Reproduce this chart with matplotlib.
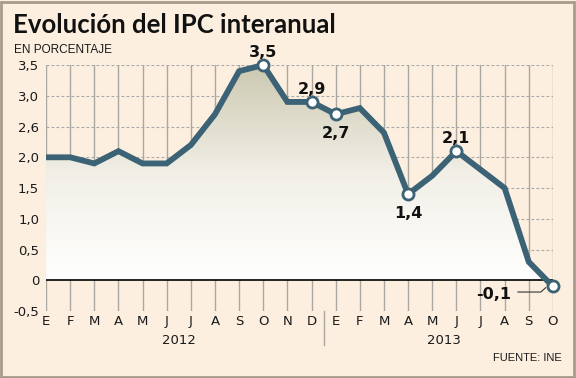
import numpy as np
import matplotlib
matplotlib.use("Agg")
import matplotlib.pyplot as plt
from matplotlib.patches import Rectangle
from matplotlib.colors import LinearSegmentedColormap

months = ["E", "F", "M", "A", "M", "J", "J", "A", "S", "O", "N", "D",
          "E", "F", "M", "A", "M", "J", "J", "A", "S", "O"]
ipc = [2.0, 2.0, 1.9, 2.1, 1.9, 1.9, 2.2, 2.7, 3.4, 3.5, 2.9, 2.9,
       2.7, 2.8, 2.4, 1.4, 1.7, 2.1, 1.8, 1.5, 0.3, -0.1]
years = ["2012", "2013"]
ytick_vals = [3.5, 3.0, 2.5, 2.0, 1.5, 1.0, 0.5, 0, -0.5]
ytick_labels = ["3,5", "3,0", "2,6", "2,0", "1,5", "1,0", "0,5", "0", "-0,5"]
# index of highlighted point, label text, label offset in points
highlights = [(9, "3,5", (0, 9)), (11, "2,9", (0, 9)), (12, "2,7", (0, -14)),
              (15, "1,4", (0, -14)), (17, "2,1", (0, 9))]
last_label = "-0,1"

bg = "#fcefdf"
line_col = "#3c6275"

fig = plt.figure(figsize=(5.76, 3.78), dpi=100, facecolor=bg)
ax = fig.add_axes([0.0799, 0.177, 0.880, 0.651])
ax.set_facecolor(bg)
x = np.arange(len(ipc))
ax.set_xlim(0, len(ipc) - 1)
ax.set_ylim(-0.5, 3.5)
for s in ax.spines.values():
    s.set_visible(False)

# grid
for xi in x:
    ax.axvline(xi, color="#aaa7a0", lw=1.0, zorder=1)
for yv in ytick_vals:
    if yv != 0:
        ax.axhline(yv, color="#a8a8a8", lw=0.8, ls=(0, (2.5, 2)), zorder=1)

# gradient fill under the line
cmap = LinearSegmentedColormap.from_list("g", ["#ffffff", "#f1efe6", "#cbc8b0"])
grad = np.linspace(0, 1, 256).reshape(-1, 1)
im = ax.imshow(grad, extent=[0, len(ipc) - 1, 0, 3.5], origin="lower",
               cmap=cmap, aspect="auto", zorder=2)
poly = ax.fill_between(x, 0, ipc, facecolor="none", edgecolor="none")
clip = poly.get_paths()[0]
im.set_clip_path(clip, transform=ax.transData)

ax.axhline(0, color="black", lw=1.2, zorder=3)
ax.plot(x, ipc, color=line_col, lw=4.2, solid_joinstyle="miter",
        solid_capstyle="butt", zorder=4, clip_on=False)

mk = [h[0] for h in highlights] + [len(ipc) - 1]
ax.plot(x[mk], np.array(ipc)[mk], "o", ms=8, mfc="white", mec=line_col,
        mew=2.0, zorder=5, clip_on=False)

for i, txt, off in highlights:
    ax.annotate(txt, (x[i], ipc[i]), xytext=off, textcoords="offset points",
                ha="center", va="center", fontsize=11.5, fontweight="bold",
                color="#111111", zorder=6)
ax.annotate(last_label, (x[-1], ipc[-1]), xytext=(-30, -6),
            textcoords="offset points", ha="right", va="center",
            fontsize=11.5, fontweight="bold", color="#111111", zorder=6)
ax.plot([x[-1] - 1.45, x[-1] - 0.5, x[-1] - 0.3],
        [ipc[-1] - 0.09, ipc[-1] - 0.09, ipc[-1] - 0.02],
        color="#333333", lw=0.8, zorder=5, clip_on=False)

ax.set_yticks(ytick_vals)
ax.set_yticklabels(ytick_labels)
ax.set_xticks(x)
ax.set_xticklabels(months)
ax.tick_params(length=0, labelsize=9.5, colors="#1a1a1a")
ax.tick_params(axis="x", pad=3)
ax.tick_params(axis="y", pad=5)

for k, yr in enumerate(years):
    ax.text(5.5 + 11 * k, -0.98, yr, ha="center", va="center", fontsize=9.5,
            color="#1a1a1a")
ax.plot([11.5, 11.5], [-0.5, -1.05], color="#aaa7a0", lw=1.0, clip_on=False)

fig.text(0.022, 0.913, "Evolución del IPC interanual", fontsize=18.5,
         fontweight="bold", color="#111111", va="baseline", family="Lato")
fig.text(0.025, 0.86, "EN PORCENTAJE", fontsize=8.5, color="#1a1a1a",
         va="baseline", family="Liberation Sans")
fig.text(0.976, 0.045, "FUENTE: INE", fontsize=8, color="#1a1a1a",
         ha="right", va="baseline", family="Liberation Sans")

fig.patches.append(Rectangle((0.002, 0.003), 0.995, 0.993, transform=fig.transFigure,
                             fill=False, edgecolor="#a89a8c", lw=2))

fig.savefig("out.png", dpi=100, facecolor=bg)
